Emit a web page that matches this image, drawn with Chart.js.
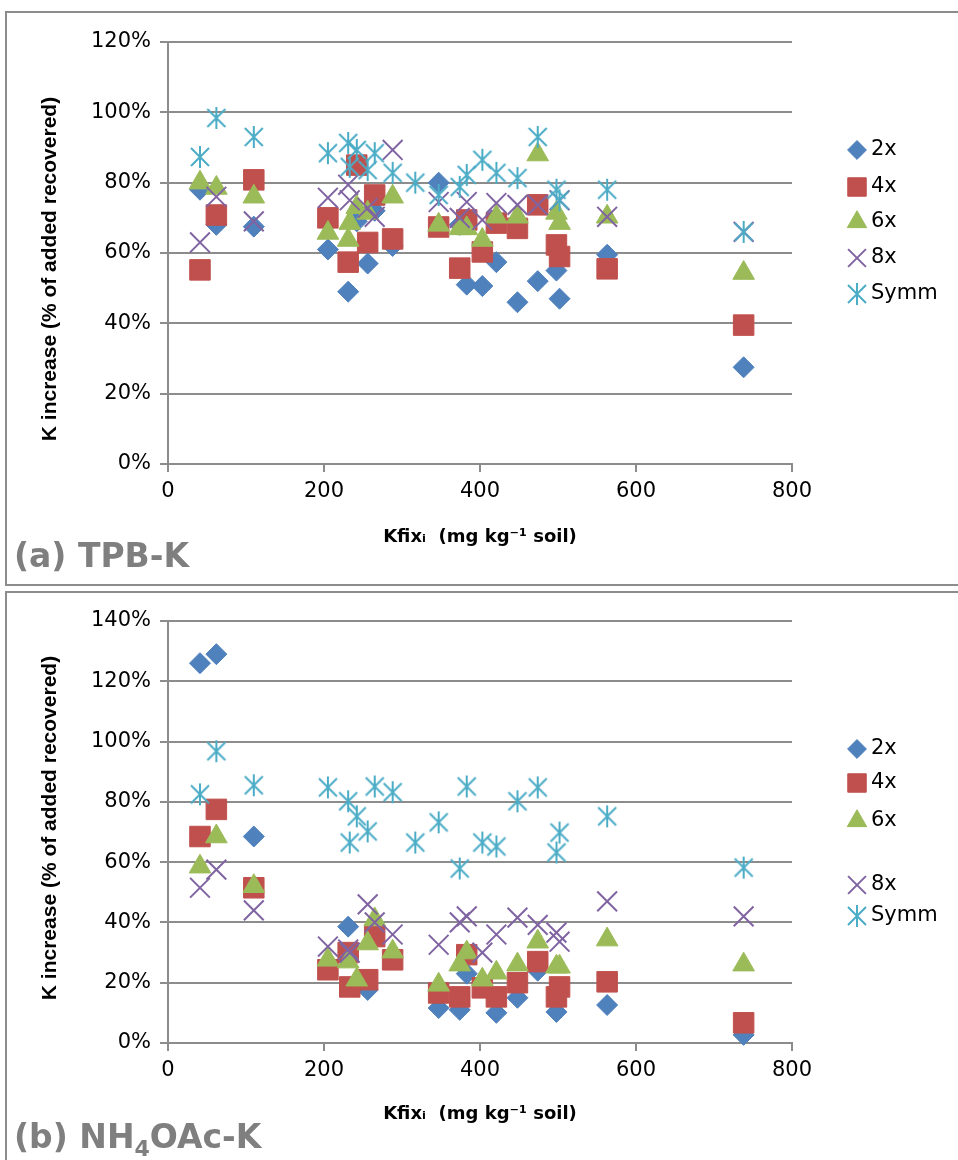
<!DOCTYPE html>
<html>
<head>
<meta charset="UTF-8">
<title>K increase x Kfix</title>
<script src="https://cdn.jsdelivr.net/npm/chart.js@4.4.0/dist/chart.umd.min.js"></script>
<style>
    body { margin: 0; background: #fff; width: 958px; height: 1160px; overflow: hidden; position: relative; }
    .moldura { position: absolute; left: 5px; width: 970px; border: 2px solid #8c8c8c; box-sizing: border-box; }
    .painel { position: absolute; left: 0; width: 958px; }
    .rotulo { position: absolute; left: 14px; font: bold 33px "DejaVu Sans", sans-serif; color: #7f7f7f; white-space: nowrap; }
    .rotulo sub { font-size: 22px; }
</style>
</head>
<body>
<div class="moldura" style="top:11px; height:575px;"></div>
<div class="moldura" style="top:591px; height:590px;"></div>
<div class="painel" style="top:0; height:590px;"><canvas id="graficoA"></canvas></div>
<div class="painel" style="top:590px; height:570px;"><canvas id="graficoB"></canvas></div>
<div class="rotulo" style="top:536px;">(a) TPB-K</div>
<div class="rotulo" style="top:1117px;">(b) NH<sub>4</sub>OAc-K</div>

<script>
// Kfix inicial de cada solo (mg/kg)
var kfix = [41, 62, 110, 205, 231, 233, 242, 256, 265, 288, 317, 347, 374, 383, 403, 421, 448, 474, 498, 502, 563, 738];

// (a) TPB-K, % do K adicionado recuperado
var tpb2x = [78, 68, 67.5, 61, 49, null, 69, 57, 72, 62, null, 80, 68, 51, 50.6, 57.4, 46, 52, 55, 47, 59.5, 27.5];
var tpb4x = [55.2, 70.8, 80.8, 70, 57.4, null, 85, 63, 76.5, 64, null, 67.4, 55.7, 69.4, 60.3, 68.5, 67, 73.7, 62.3, 59, 55.5, 39.5];
var tpb6x = [80, 78.5, 76, 65.7, 63.7, 68.5, 73, 71.4, null, 76, null, 68, 67, 67, 63.7, 70.3, 70.3, 88, 71.4, 68.5, 70.3, 54.3];
var tpb8x = [63, 76, 69, 75.7, 79.4, 75, null, 72.8, 70.3, 89.3, null, 74.5, 70, 74.5, 69.4, 74.2, 73.7, 73.7, null, 75, 70.3, 66];
var tpbSymm = [87.3, 98.4, 93, 88.4, 91.3, 84.5, 89.3, 83.6, 88.4, 82.8, 80, 76.5, 78.8, 82.2, 86.5, 82.8, 81.3, 93, 78, 75, 78, 66];

// (b) NH4OAc-K
var nh2x = [126, 129, 68.5, null, 38.6, null, null, 17.6, null, null, null, 11.6, 11, 23, null, 10, 15, 24, 10.3, null, 12.6, 2.7];
var nh4x = [68.5, 77.5, 51.5, 24.3, 30, 18.6, null, 21, 35.3, 27.6, null, 16.6, 15.3, 29.3, 18.3, 15.3, 20, 27, 15.3, 18.6, 20.3, 6.7];
var nh6x = [58.5, 68.5, 52, 27.6, 27, null, 21, 33, 41, 30.3, null, 19.3, 26, 30, 21, 23.3, 26, 33.6, 25.3, 25.3, 34.3, 26];
var nh8x = [51.5, 57.5, 44, 32, 31, 30, null, 46, 40, 36, null, 32.6, 40, 42, 30, 36, 41.6, 39.2, 36.6, 33.6, 47, 42];
var nhSymm = [82.5, 96.8, 85.5, 84.8, 80.2, 66.5, 75.2, 70.2, 85.1, 83.2, 66.5, 73.2, 57.9, 85.1, 66.5, 65.2, 80.2, 84.8, 63.2, 69.8, 75.2, 58.2];

var nomesSeries = ["2x", "4x", "6x", "8x", "Symm"];
var ticksX = [0, 200, 400, 600, 800];

// marcador "Symm" do Excel: traço vertical + X
function asterisco(cor) {
    var c = document.createElement("canvas");
    c.width = 22; c.height = 24;
    var g = c.getContext("2d");
    g.strokeStyle = cor;
    g.lineWidth = 2;
    g.beginPath();
    g.moveTo(11, 1); g.lineTo(11, 23);
    g.moveTo(2, 3); g.lineTo(20, 21);
    g.moveTo(20, 3); g.lineTo(2, 21);
    g.stroke();
    return c;
}

var estilos = [
    { estilo: "rectRot", raio: 10.5, cor: "#4f81bd" },
    { estilo: "rect", raio: 14.5, cor: "#c0504d" },
    { estilo: "triangle", raio: 12.5, cor: "#9bbb59" },
    { estilo: "crossRot", raio: 14, cor: "#8064a2" },
    { estilo: asterisco("#4bacc6"), raio: 11, cor: "#4bacc6" }
];

function montarDatasets(series) {
    return series.map(function (valores, i) {
        var e = estilos[i];
        return {
            label: nomesSeries[i],
            data: kfix.map(function (x, j) { return { x: x, y: valores[j] }; }),
            pointStyle: e.estilo,
            pointRadius: e.raio,
            pointHoverRadius: e.raio,
            backgroundColor: e.cor,
            borderColor: e.cor,
            borderWidth: i === 3 ? 2 : 1,
            showLine: false,
            clip: false,
            order: 5 - i
        };
    });
}

// legenda desenhada à direita, como no Excel
var legendaLateral = {
    id: "legendaLateral",
    afterDraw: function (chart, args, opts) {
        var ctx = chart.ctx;
        ctx.save();
        chart.data.datasets.forEach(function (ds, i) {
            var y = opts.ys[i];
            ctx.fillStyle = ds.backgroundColor;
            ctx.strokeStyle = ds.borderColor;
            ctx.lineWidth = ds.borderWidth;
            Chart.helpers.drawPoint(ctx, {
                pointStyle: ds.pointStyle,
                radius: ds.pointRadius * 0.9,
                rotation: 0,
                borderWidth: ds.borderWidth
            }, opts.x, y);
            ctx.fillStyle = "#000";
            ctx.font = "21px 'DejaVu Sans'";
            ctx.textBaseline = "middle";
            ctx.textAlign = "left";
            ctx.fillText(ds.label, opts.x + 14, y);
        });
        ctx.restore();
    }
};

// título do eixo Y, girado
var tituloY = {
    id: "tituloY",
    afterDraw: function (chart, args, opts) {
        var ctx = chart.ctx;
        ctx.save();
        ctx.translate(opts.x, opts.y);
        ctx.rotate(-Math.PI / 2);
        ctx.font = "bold 21px 'Liberation Sans'";
        ctx.fillStyle = "#000";
        ctx.textAlign = "center";
        ctx.textBaseline = "middle";
        ctx.fillText("K increase (% of added recovered)", 0, 0);
        ctx.restore();
    }
};

function opcoes(yMax, topo, base, alturaX, legendaYs, centroTitulo) {
    return {
        responsive: true,
        maintainAspectRatio: false,
        animation: false,
        layout: { padding: { left: 36, right: 166, top: topo, bottom: base } },
        plugins: {
            legend: { display: false },
            tooltip: { enabled: false },
            legendaLateral: { x: 857, ys: legendaYs },
            tituloY: { x: 50, y: centroTitulo }
        },
        scales: {
            x: {
                type: "linear",
                min: 0,
                max: 800,
                afterFit: function (s) { s.height = alturaX; },
                afterBuildTicks: function (s) { s.ticks = ticksX.map(function (v) { return { value: v }; }); },
                ticks: { color: "#000", font: { family: "DejaVu Sans", size: 21 }, padding: 7, maxRotation: 0 },
                grid: { drawOnChartArea: false, color: "#8c8c8c", lineWidth: 2, tickLength: 8 },
                border: { color: "#8c8c8c", width: 2 },
                title: {
                    display: true,
                    text: "Kfixᵢ  (mg kg⁻¹ soil)",
                    color: "#000",
                    font: { family: "DejaVu Sans", weight: "bold", size: 18 },
                    padding: 0
                }
            },
            y: {
                min: 0,
                max: yMax,
                afterFit: function (s) { s.width = 132; },
                ticks: {
                    stepSize: 20,
                    color: "#000",
                    font: { family: "DejaVu Sans", size: 21 },
                    padding: 9,
                    callback: function (v) { return v + "%"; }
                },
                grid: { color: "#8c8c8c", lineWidth: 2, tickLength: 8 },
                border: { color: "#8c8c8c", width: 2 },
                title: { display: false }
            }
        }
    };
}

new Chart(document.getElementById("graficoA").getContext("2d"), {
    type: "scatter",
    data: { datasets: montarDatasets([tpb2x, tpb4x, tpb6x, tpb8x, tpbSymm]) },
    options: opcoes(120, 42, 42, 84, [150, 187, 222, 258, 294], 269),
    plugins: [legendaLateral, tituloY]
});

new Chart(document.getElementById("graficoB").getContext("2d"), {
    type: "scatter",
    data: { datasets: montarDatasets([nh2x, nh4x, nh6x, nh8x, nhSymm]) },
    options: opcoes(140, 31, 35, 82, [159, 193, 231, 295, 326], 238),
    plugins: [legendaLateral, tituloY]
});
</script>
</body>
</html>
